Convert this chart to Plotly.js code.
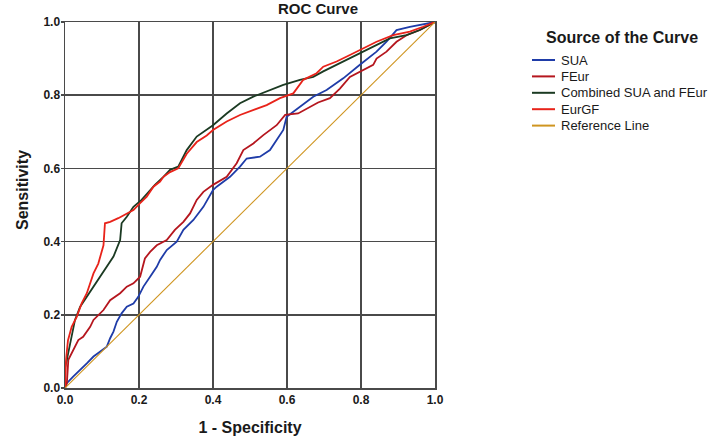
<!DOCTYPE html>
<html>
<head>
<meta charset="utf-8">
<script src="https://cdn.plot.ly/plotly-3.0.1.min.js"></script>
<style>
  html, body { margin: 0; padding: 0; background: #ffffff; }
  #chart { width: 714px; height: 445px; }
</style>
</head>
<body>
<div id="chart"></div>
<script>
// ROC curves: 1 - specificity (x) against sensitivity (y)
const seriesNames = ['SUA', 'FEur', 'Combined SUA and FEur', 'EurGF', 'Reference Line'];

const suaFpr = [0, 0.005, 0.022, 0.041, 0.059, 0.077, 0.095, 0.113, 0.122, 0.131, 0.14, 0.153, 0.167, 0.185, 0.198, 0.212, 0.23, 0.248, 0.257, 0.275, 0.302, 0.32, 0.347, 0.374, 0.40, 0.41, 0.446, 0.473, 0.491, 0.527, 0.554, 0.572, 0.59, 0.599, 0.635, 0.671, 0.707, 0.752, 0.797, 0.842, 0.869, 0.896, 0.932, 0.968, 1];
const suaTpr = [0, 0.013, 0.031, 0.049, 0.067, 0.086, 0.099, 0.113, 0.136, 0.154, 0.181, 0.204, 0.222, 0.231, 0.249, 0.277, 0.304, 0.331, 0.35, 0.377, 0.40, 0.432, 0.459, 0.495, 0.541, 0.55, 0.577, 0.605, 0.627, 0.632, 0.65, 0.678, 0.705, 0.741, 0.769, 0.796, 0.814, 0.846, 0.883, 0.919, 0.946, 0.978, 0.987, 0.994, 1];

const feurFpr = [0, 0.005, 0.009, 0.022, 0.032, 0.036, 0.049, 0.068, 0.077, 0.104, 0.122, 0.149, 0.167, 0.185, 0.203, 0.216, 0.23, 0.248, 0.275, 0.297, 0.32, 0.338, 0.356, 0.374, 0.40, 0.437, 0.464, 0.482, 0.509, 0.536, 0.572, 0.595, 0.63, 0.657, 0.684, 0.716, 0.743, 0.77, 0.797, 0.833, 0.842, 0.869, 0.896, 0.923, 0.959, 1];
const feurTpr = [0, 0.013, 0.077, 0.104, 0.122, 0.131, 0.14, 0.167, 0.186, 0.213, 0.24, 0.259, 0.277, 0.286, 0.304, 0.354, 0.372, 0.39, 0.404, 0.432, 0.454, 0.477, 0.514, 0.536, 0.555, 0.577, 0.614, 0.65, 0.668, 0.691, 0.718, 0.746, 0.75, 0.764, 0.78, 0.792, 0.818, 0.85, 0.864, 0.883, 0.90, 0.919, 0.946, 0.964, 0.978, 1];

const combFpr = [0, 0, 0.005, 0.014, 0.027, 0.041, 0.059, 0.077, 0.095, 0.113, 0.131, 0.149, 0.153, 0.167, 0.185, 0.207, 0.23, 0.243, 0.266, 0.284, 0.306, 0.329, 0.356, 0.383, 0.40, 0.437, 0.473, 0.509, 0.545, 0.59, 0.635, 0.671, 0.698, 0.734, 0.77, 0.806, 0.842, 0.878, 0.923, 0.959, 1];
const combTpr = [0, 0.055, 0.077, 0.122, 0.186, 0.222, 0.249, 0.277, 0.304, 0.331, 0.359, 0.404, 0.45, 0.468, 0.495, 0.514, 0.541, 0.555, 0.577, 0.596, 0.605, 0.65, 0.687, 0.705, 0.718, 0.75, 0.778, 0.796, 0.81, 0.828, 0.842, 0.85, 0.865, 0.883, 0.90, 0.919, 0.937, 0.955, 0.964, 0.978, 1];

const eurgfFpr = [0, 0.003, 0.008, 0.018, 0.032, 0.045, 0.059, 0.077, 0.09, 0.104, 0.108, 0.122, 0.144, 0.167, 0.185, 0.203, 0.221, 0.239, 0.257, 0.266, 0.284, 0.306, 0.329, 0.356, 0.383, 0.40, 0.437, 0.473, 0.509, 0.545, 0.581, 0.617, 0.644, 0.68, 0.698, 0.734, 0.77, 0.806, 0.842, 0.887, 0.932, 0.968, 1];
const eurgfTpr = [0, 0.08, 0.13, 0.167, 0.195, 0.231, 0.259, 0.313, 0.34, 0.39, 0.45, 0.454, 0.464, 0.477, 0.486, 0.505, 0.523, 0.55, 0.564, 0.577, 0.59, 0.60, 0.64, 0.672, 0.69, 0.705, 0.728, 0.746, 0.76, 0.773, 0.792, 0.805, 0.842, 0.86, 0.878, 0.892, 0.91, 0.928, 0.946, 0.964, 0.974, 0.987, 1];

const refFpr = [0, 1];
const refTpr = [0, 1];

const axisTicks = [0, 0.2, 0.4, 0.6, 0.8, 1.0];

const colors = ['#1f3ca8', '#b5161e', '#1b3a22', '#e8231a', '#cf9520'];
const widths = [1.8, 1.8, 1.8, 1.8, 1.1];

const xs = [suaFpr, feurFpr, combFpr, eurgfFpr, refFpr];
const ys = [suaTpr, feurTpr, combTpr, eurgfTpr, refTpr];

const traces = seriesNames.map((name, i) => ({
  type: 'scatter',
  mode: 'lines',
  name: name,
  x: xs[i],
  y: ys[i],
  line: { color: colors[i], width: widths[i] },
  showlegend: false,
  hoverinfo: 'skip'
}));

// plot frame in pixels
const W = 714, H = 445;
const plotL = 65, plotR = 435, plotT = 22, plotB = 388;
const pw = plotR - plotL, ph = plotB - plotT;
const px2x = p => (p - plotL) / pw;
const px2y = p => (plotB - p) / ph;

const textFont = 'Liberation Sans, Arial, Helvetica, sans-serif';
const ink = '#1a1a1a';
const gridColor = '#4a4a4a';

// hand-placed legend block
const legendLeft = 532, legendLineEnd = 555, legendText = 559;
const legendTop = 60, legendStep = 16.4;

const shapes = [];
const annotations = [];

annotations.push({
  xref: 'paper', yref: 'paper',
  x: px2x(544), y: px2y(37),
  xanchor: 'left', yanchor: 'middle',
  text: 'Source of the Curve', showarrow: false,
  font: { family: textFont, size: 16, color: ink, weight: 'bold' }
});

seriesNames.forEach((name, i) => {
  const yy = px2y(legendTop + i * legendStep);
  shapes.push({
    type: 'line', xref: 'paper', yref: 'paper',
    x0: px2x(legendLeft), x1: px2x(legendLineEnd), y0: yy, y1: yy,
    line: { color: colors[i], width: 2 }
  });
  annotations.push({
    xref: 'paper', yref: 'paper',
    x: px2x(legendText), y: yy,
    xanchor: 'left', yanchor: 'middle',
    text: name, showarrow: false,
    font: { family: textFont, size: 13, color: ink }
  });
});

// y axis title
annotations.push({
  xref: 'paper', yref: 'paper',
  x: px2x(23), y: px2y(190),
  xanchor: 'center', yanchor: 'middle',
  textangle: -90,
  text: 'Sensitivity', showarrow: false,
  font: { family: textFont, size: 16, color: ink, weight: 'bold' }
});

const axisCommon = {
  range: [0, 1],
  tickvals: axisTicks,
  ticktext: axisTicks.map(v => v.toFixed(1)),
  showgrid: true,
  gridcolor: gridColor,
  gridwidth: 1.5,
  zeroline: false,
  showline: true,
  linecolor: gridColor,
  linewidth: 1.5,
  mirror: true,
  tickfont: { family: textFont, size: 12, color: ink, weight: 'bold' },
  fixedrange: true
};

const layout = {
  width: W,
  height: H,
  margin: { l: plotL, r: W - plotR, t: plotT, b: H - plotB, pad: 0 },
  paper_bgcolor: '#ffffff',
  plot_bgcolor: '#ffffff',
  title: {
    text: 'ROC Curve',
    xref: 'container', yref: 'container',
    x: 318 / W, y: 1 - 9 / H,
    xanchor: 'center', yanchor: 'middle',
    font: { family: textFont, size: 15, color: ink, weight: 'bold' }
  },
  xaxis: Object.assign({}, axisCommon, {
    ticks: '',
    title: {
      text: '1 - Specificity',
      standoff: 16,
      font: { family: textFont, size: 16, color: ink, weight: 'bold' }
    }
  }),
  yaxis: Object.assign({}, axisCommon, {
    ticks: 'outside',
    ticklen: 3,
    tickcolor: gridColor,
    tickwidth: 1.5,
    ticklabelstandoff: -2
  }),
  shapes: shapes,
  annotations: annotations,
  showlegend: false
};

Plotly.newPlot('chart', traces, layout, { staticPlot: true, displayModeBar: false });
</script>
</body>
</html>
